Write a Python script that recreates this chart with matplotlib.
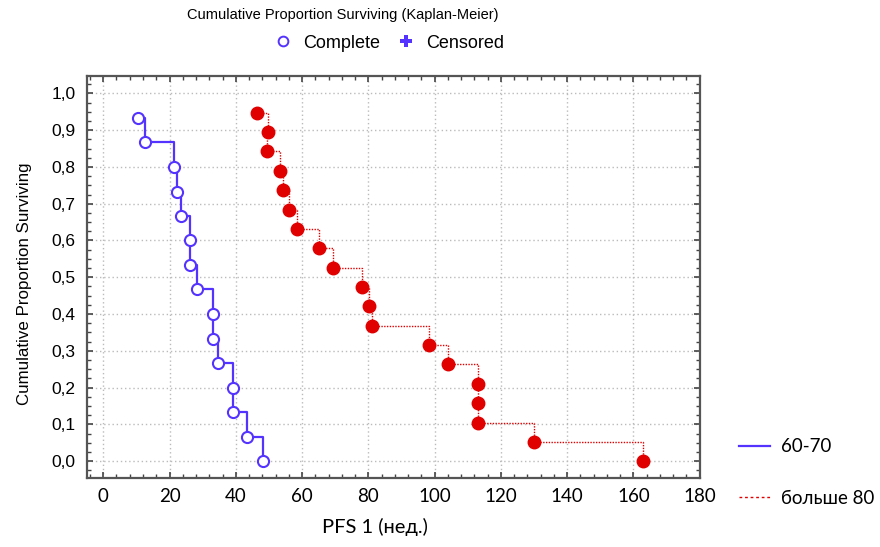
import matplotlib
matplotlib.use("Agg")
import matplotlib.pyplot as plt
from matplotlib.lines import Line2D
from matplotlib.ticker import MultipleLocator, FuncFormatter

# group 60-70 (15 patients), times in weeks and survival after each event
blue_t = [10.4, 12.7, 21.4, 22.2, 23.5, 26.3, 26.3, 28.2, 33.1, 33.1, 34.5, 39.2, 39.3, 43.5, 48.1]
blue_s = [0.933, 0.867, 0.800, 0.733, 0.667, 0.600, 0.533, 0.467, 0.400, 0.333, 0.267, 0.200, 0.133, 0.067, 0.000]

# group "больше 80" (19 patients)
red_t = [46.3, 49.6, 49.5, 53.3, 54.2, 56.1, 58.4, 65.2, 69.4, 78.1, 80.3, 81.2, 98.3, 104.0, 113.0, 113.0, 113.0, 130.0, 163.0]
red_s = [0.947, 0.895, 0.842, 0.789, 0.737, 0.684, 0.632, 0.579, 0.526, 0.474, 0.421, 0.368, 0.316, 0.263, 0.211, 0.158, 0.105, 0.053, 0.000]

x_ticks = [0, 20, 40, 60, 80, 100, 120, 140, 160, 180]
y_ticks = [0.0, 0.1, 0.2, 0.3, 0.4, 0.5, 0.6, 0.7, 0.8, 0.9, 1.0]

blue = '#5533ff'
red = '#e00000'
calibri_like = ['Lato', 'Open Sans', 'DejaVu Sans']

plt.rcParams['font.family'] = ['Liberation Sans', 'DejaVu Sans']

fig = plt.figure(figsize=(8.8, 5.47), dpi=100)
ax = fig.add_axes([0.0985, 0.126, 0.6965, 0.7356])

# Kaplan-Meier steps
ax.step(blue_t, blue_s, where='post', color=blue, lw=1.6, zorder=3)
ax.plot(blue_t, blue_s, 'o', ms=8, mfc='white', mec=blue, mew=1.5, zorder=4)
ax.step(red_t, red_s, where='post', color=red, lw=1.0, ls=(0, (1, 1)), zorder=3)
ax.plot(red_t, red_s, 'o', ms=9, color=red, zorder=4)

ax.set_xlim(-5, 180)
ax.set_ylim(-0.046, 1.048)
ax.set_xticks(x_ticks)
ax.set_yticks(y_ticks)
ax.xaxis.set_minor_locator(MultipleLocator(4))
ax.yaxis.set_minor_locator(MultipleLocator(0.025))
ax.yaxis.set_major_formatter(FuncFormatter(lambda v, p: f'{v:.1f}'.replace('.', ',')))
ax.tick_params(which='both', direction='in', top=True, right=True, color='#444444')
ax.tick_params(which='major', length=4, width=1.2)
ax.tick_params(which='minor', length=3, width=1.0)
ax.tick_params(axis='y', labelsize=12.5, pad=8)
ax.tick_params(axis='x', labelsize=13.5, pad=7)
for lbl in ax.get_xticklabels():
    lbl.set_family(calibri_like)
for sp in ax.spines.values():
    sp.set_color('#555555')
    sp.set_linewidth(1.6)
ax.grid(True, color='#bbbbbb', ls=(0, (1, 2)), lw=1)

ax.set_xlabel('PFS 1 (нед.)', fontsize=14.5, family=calibri_like)
ax.xaxis.set_label_coords(0.471, -0.098)
fig.text(0.028, 0.481, 'Cumulative Proportion Surviving', rotation=90,
         ha='center', va='center', fontsize=12.2)
fig.text(0.389, 0.972, 'Cumulative Proportion Surviving (Kaplan-Meier)',
         ha='center', va='center', fontsize=10.5)

top_handles = [
    Line2D([], [], ls='none', marker='o', ms=7, mfc='white', mec=blue, mew=1.4),
    Line2D([], [], ls='none', marker='P', ms=8, color=blue, mew=0),
]
fig.legend(top_handles, ['Complete', 'Censored'], ncol=2, loc='center',
           bbox_to_anchor=(0.441, 0.921), frameon=False, fontsize=13,
           handlelength=1.2, columnspacing=0.85, handletextpad=0.5)

side_handles = [
    Line2D([], [], color=blue, lw=1.6),
    Line2D([], [], color=red, lw=1.0, ls=(0, (2, 2))),
]
fig.legend(side_handles, ['60-70', 'больше 80'], loc='upper left',
           bbox_to_anchor=(0.821, 0.230), frameon=False, handlelength=1.65,
           labelspacing=1.85, handletextpad=0.55, prop={'family': calibri_like, 'size': 13.5})

fig.savefig('out.png', dpi=100)
